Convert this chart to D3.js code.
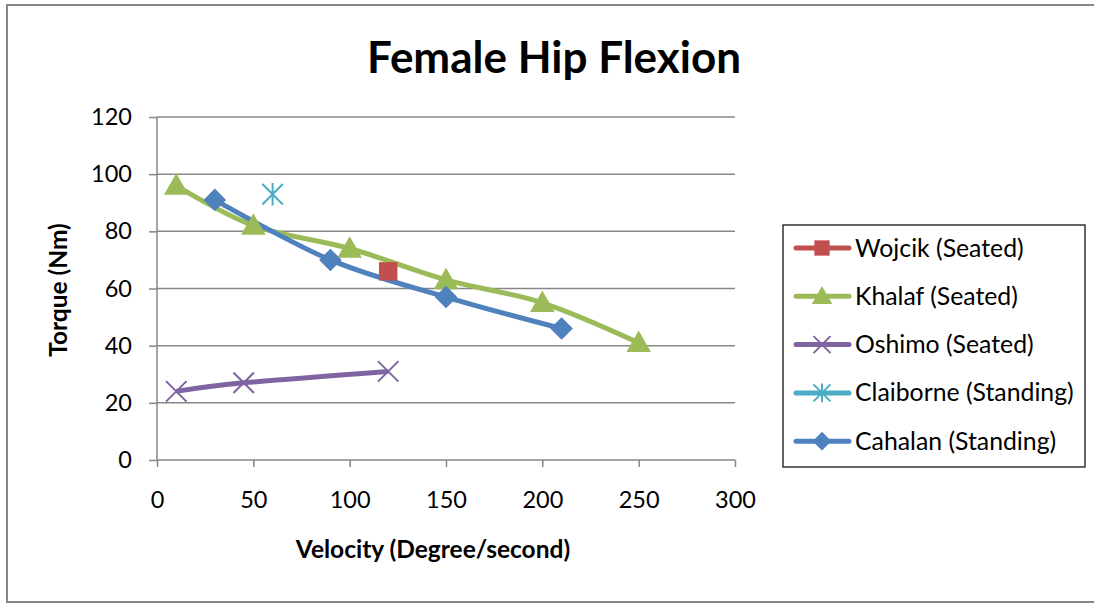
<!DOCTYPE html>
<html><head><meta charset="utf-8">
<script src="https://cdn.jsdelivr.net/npm/d3@7"></script>
<style>body{margin:0;background:#fff}svg{display:block}text{font-family:Lato,"Open Sans",sans-serif}</style>
</head><body><svg id="c" width="1094" height="605"></svg>
<script>
const xTicks = [0,50,100,150,200,250,300];
const yTicks = [0,20,40,60,80,100,120];
const wojcikX = [120], wojcikY = [66];
const khalafX = [10,50,100,150,200,250], khalafY = [96,82,74,63,55,41];
const oshimoX = [10,45,120], oshimoY = [24,27,31];
const claiborneX = [60], claiborneY = [93];
const cahalanX = [30,90,150,210], cahalanY = [91,70,57,46];
const seriesNames = ["Wojcik (Seated)","Khalaf (Seated)","Oshimo (Seated)","Claiborne (Standing)","Cahalan (Standing)"];
const seriesColors = ["#c0504d","#9bbb59","#8064a2","#4bacc6","#4f81bd"];
const seriesMarkers = ["square","triangle","x","star","diamond"];

const series = [
  {xs:wojcikX, ys:wojcikY},{xs:khalafX, ys:khalafY},{xs:oshimoX, ys:oshimoY},
  {xs:claiborneX, ys:claiborneY},{xs:cahalanX, ys:cahalanY}
].map((s,i)=>({name:seriesNames[i],color:seriesColors[i],marker:seriesMarkers[i],pts:s.xs.map((x,j)=>[x,s.ys[j]])}));

const svg = d3.select("#c");
svg.append("rect").attr("x",7).attr("y",5).attr("width",1090).attr("height",597)
  .attr("fill","#fff").attr("stroke","#868686").attr("stroke-width",2);

const x = d3.scaleLinear().domain([0,300]).range([157,735]);
const y = d3.scaleLinear().domain([0,120]).range([460,117]);

svg.append("text").attr("x",554).attr("y",73).attr("text-anchor","middle")
  .attr("font-size",44).attr("font-weight","bold").text("Female Hip Flexion");

// gridlines
svg.append("g").selectAll("line").data(yTicks.filter(d=>d>0)).join("line")
  .attr("x1",x(0)).attr("x2",x(300)).attr("y1",d=>y(d)).attr("y2",d=>y(d))
  .attr("stroke","#878787").attr("stroke-width",1.5);

const gx = svg.append("g").attr("transform",`translate(0,${y(0)})`)
  .call(d3.axisBottom(x).tickValues(xTicks).tickSize(7).tickPadding(24));
const gy = svg.append("g").attr("transform",`translate(${x(0)},0)`)
  .call(d3.axisLeft(y).tickValues(yTicks).tickSize(8).tickPadding(17));
[gx,gy].forEach(g=>{
  g.select(".domain").attr("stroke","#878787").attr("stroke-width",1.5);
  g.selectAll(".tick line").attr("stroke","#878787").attr("stroke-width",1.5);
  g.selectAll(".tick text").attr("font-size",23.5).attr("fill","#000").attr("font-family","Lato,sans-serif");
});
gx.select(".domain").attr("d",`M${x(0)},0H${x(300)}`);
gy.select(".domain").attr("d",`M0,${y(0)}V${y(120)}`);

svg.append("text").attr("x",433).attr("y",558).attr("text-anchor","middle")
  .attr("font-size",24.5).attr("font-weight","bold").text("Velocity (Degree/second)");
svg.append("text").attr("transform","translate(67,290) rotate(-90)").attr("text-anchor","middle")
  .attr("font-size",24.5).attr("font-weight","bold").text("Torque (Nm)");

function drawMarker(g, type, color, cx, cy, s){
  if(type==="square") g.append("rect").attr("x",cx-s*0.45).attr("y",cy-s*0.45).attr("width",s*0.9).attr("height",s*0.9).attr("fill",color);
  else if(type==="triangle") g.append("path").attr("d",`M${cx},${cy-s*0.6}L${cx+s*0.6},${cy+s*0.45}L${cx-s*0.6},${cy+s*0.45}Z`).attr("fill",color);
  else if(type==="diamond") g.append("path").attr("d",`M${cx},${cy-s*0.55}L${cx+s*0.55},${cy}L${cx},${cy+s*0.55}L${cx-s*0.55},${cy}Z`).attr("fill",color);
  else if(type==="x") g.append("path").attr("d",`M${cx-s*0.5},${cy-s*0.5}L${cx+s*0.5},${cy+s*0.5}M${cx+s*0.5},${cy-s*0.5}L${cx-s*0.5},${cy+s*0.5}`).attr("stroke",color).attr("stroke-width",2);
  else if(type==="star") g.append("path").attr("d",`M${cx-s*0.5},${cy-s*0.5}L${cx+s*0.5},${cy+s*0.5}M${cx+s*0.5},${cy-s*0.5}L${cx-s*0.5},${cy+s*0.5}M${cx},${cy-s*0.55}V${cy+s*0.55}`).attr("stroke",color).attr("stroke-width",2);
}

const line = d3.line().x(d=>x(d[0])).y(d=>y(d[1])).curve(d3.curveCatmullRom.alpha(0));
const order = [1,4,2,0,3];
order.forEach(i=>{
  const s = series[i];
  if(s.pts.length>1) svg.append("path").attr("d",line(s.pts)).attr("fill","none")
    .attr("stroke",s.color).attr("stroke-width",5).attr("stroke-linejoin","round");
});
order.forEach(i=>{
  const s = series[i];
  const g = svg.append("g");
  s.pts.forEach(p=>drawMarker(g,s.marker,s.color,x(p[0]),y(p[1]),20.5));
});

// legend
svg.append("rect").attr("x",783).attr("y",225).attr("width",302).attr("height",242)
  .attr("fill","#fff").attr("stroke","#000").attr("stroke-width",1.2);
series.forEach((s,i)=>{
  const ly = 248 + i*48.3;
  const g = svg.append("g");
  g.append("line").attr("x1",796).attr("x2",849).attr("y1",ly).attr("y2",ly)
    .attr("stroke",s.color).attr("stroke-width",5).attr("stroke-linecap","round");
  drawMarker(g,s.marker,s.color,822,ly,17);
  g.append("text").attr("x",855).attr("y",ly+8.5).attr("font-size",24.8).text(s.name);
});
</script></body></html>
